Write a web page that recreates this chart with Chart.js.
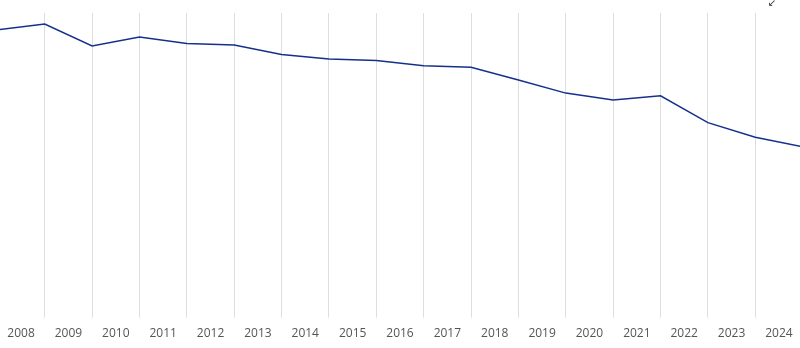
<!DOCTYPE html>
<html>
<head>
<meta charset="utf-8">
<script src="https://cdn.jsdelivr.net/npm/chart.js@4"></script>
<style>
  html, body { margin: 0; padding: 0; background: #fff; }
  #wrap { position: relative; width: 800px; height: 348px; }
  #collapse { position: absolute; left: 768px; top: -3px; font: 10px "DejaVu Sans", sans-serif; color: #222; }
</style>
</head>
<body>
<div id="wrap">
  <canvas id="grafik"></canvas>
  <span id="collapse">↙</span>
</div>
<script>
// one point at the start of each year
const years = [2008,2009,2010,2011,2012,2013,2014,2015,2016,2017,2018,2019,2020,2021,2022,2023,2024,2025];
const values = [94.5,96.4,89.2,92.1,90.0,89.5,86.4,84.9,84.4,82.7,82.2,78.0,73.7,71.4,72.8,64.0,59.2,56.1];

// year labels sit in the middle of each year
const labelYears = [2008,2009,2010,2011,2012,2013,2014,2015,2016,2017,2018,2019,2020,2021,2022,2023,2024];
// vertical lines at year boundaries
const gridYears = [2009,2010,2011,2012,2013,2014,2015,2016,2017,2018,2019,2020,2021,2022,2023,2024];

const xMin = 2008.056;
const xMax = 2024.944;

new Chart(document.getElementById("grafik"),{

    type:"line",

    data:{
        datasets:[{
            data: years.map((y,i) => ({x:y, y:values[i]})),
            borderColor:"#15308c",
            borderWidth:1.5,
            pointRadius:0,
            tension:0,
            fill:false
        }]
    },

    options:{
        responsive:true,
        maintainAspectRatio:false,
        animation:false,
        layout:{ padding:{ top:13, bottom:6, left:0, right:0 } },
        plugins:{
            legend:{display:false},
            tooltip:{enabled:false}
        },
        scales:{
            x:{
                type:"linear",
                position:"bottom",
                min:xMin,
                max:xMax,
                afterBuildTicks: axis => { axis.ticks = labelYears.map(y => ({value:y+0.5})); },
                ticks:{
                    callback: v => String(Math.round(v-0.5)),
                    color:"#555",
                    font:{family:"'Open Sans'", size:12},
                    padding:1,
                    maxRotation:0,
                    autoSkip:false
                },
                grid:{display:false},
                border:{display:false}
            },
            xGrid:{
                type:"linear",
                position:"top",
                min:xMin,
                max:xMax,
                afterBuildTicks: axis => { axis.ticks = gridYears.map(y => ({value:y})); },
                ticks:{display:false},
                grid:{color:"#dedede", lineWidth:1, drawTicks:false},
                border:{display:false}
            },
            y:{
                display:false,
                min:0,
                max:100
            }
        }
    }

});
</script>
</body>
</html>
